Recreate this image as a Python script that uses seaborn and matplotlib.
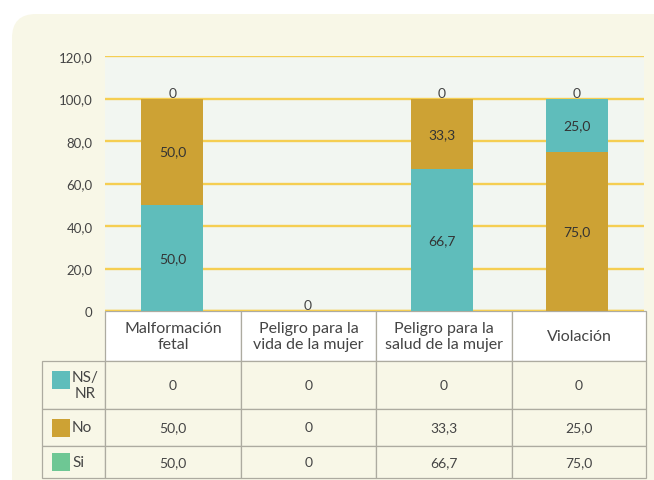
import matplotlib

matplotlib.use("Agg")
import matplotlib.pyplot as plt
import numpy as np
import pandas as pd
import seaborn as sns
from matplotlib.patches import FancyBboxPatch, Rectangle

# categories as shown in the table header
categories = ["Malformación\nfetal", "Peligro para la\nvida de la mujer",
              "Peligro para la\nsalud de la mujer", "Violación"]

# table values
row_names = ["NS/\nNR", "No", "Si"]
nsnr = [0, 0, 0, 0]
no = [50.0, 0, 33.3, 25.0]
si = [50.0, 0, 66.7, 75.0]

# bar segments as drawn (lower / upper)
bar_lower = [50.0, 0, 66.7, 75.0]
bar_upper = [50.0, 0, 33.3, 25.0]

y_ticks = [0, 20, 40, 60, 80, 100, 120]

TEAL = "#5FBDBB"
GOLD = "#CDA234"
GREEN = "#6EC794"
lower_colors = [TEAL, TEAL, TEAL, GOLD]
upper_colors = [GOLD, GOLD, GOLD, TEAL]
row_colors = [TEAL, GOLD, GREEN]

CREAM = "#F8F7E7"
PLOT_BG = "#F2F6F1"
GRID = "#F5CE52"
TXT = "#444444"
EDGE = "#ADABA0"
FONT = "Lato"


def fmt(v):
    return "0" if v == 0 else f"{v:.1f}".replace(".", ",")


def main() -> None:
    sns.set_theme(style="white")
    plt.rcParams["font.family"] = [FONT, "DejaVu Sans"]

    W, H = 654, 481
    fig = plt.figure(figsize=(W / 100, H / 100), dpi=100)
    fig.patch.set_facecolor("white")

    # pixel-coordinate background layer
    bg = fig.add_axes([0, 0, 1, 1], zorder=0)
    bg.set_xlim(0, W)
    bg.set_ylim(H, 0)
    bg.axis("off")
    bg.add_patch(FancyBboxPatch((12, 15), 700, 520, boxstyle="round,pad=0,rounding_size=24",
                                facecolor=CREAM, edgecolor="none"))

    # table
    col_edges = [105, 241, 376, 512, 646]
    row_edges = [312, 362, 410, 447, 479]
    left = 42
    for j, cat in enumerate(categories):
        x0, x1 = col_edges[j], col_edges[j + 1]
        bg.add_patch(Rectangle((x0, row_edges[0]), x1 - x0, row_edges[1] - row_edges[0],
                               facecolor="white", edgecolor=EDGE, linewidth=0.9))
        bg.text((x0 + x1) / 2, (row_edges[0] + row_edges[1]) / 2, cat, ha="center", va="center",
                fontsize=11.5, color=TXT, linespacing=1.15)
    table_rows = [nsnr, no, si]
    for i, vals in enumerate(table_rows):
        y0, y1 = row_edges[i + 1], row_edges[i + 2]
        ym = (y0 + y1) / 2
        bg.add_patch(Rectangle((left, y0), col_edges[0] - left, y1 - y0,
                               facecolor=CREAM, edgecolor=EDGE, linewidth=0.9))
        bg.add_patch(Rectangle((52, ym - 9 - (5 if i == 0 else 0)), 18, 18,
                               facecolor=row_colors[i], edgecolor="none"))
        bg.text(72, ym, row_names[i], ha="left", va="center", fontsize=11, color=TXT,
                multialignment="center", linespacing=1.2)
        for j, v in enumerate(vals):
            x0, x1 = col_edges[j], col_edges[j + 1]
            bg.add_patch(Rectangle((x0, y0), x1 - x0, y1 - y0,
                                   facecolor=CREAM, edgecolor=EDGE, linewidth=0.9))
            bg.text((x0 + x1) / 2, ym, fmt(v), ha="center", va="center", fontsize=10, color=TXT)

    # chart
    ax = fig.add_axes([105 / W, 1 - 312 / H, 539 / W, 255 / H], zorder=1)
    ax.set_facecolor(PLOT_BG)
    df = pd.DataFrame({
        "cat": categories,
        "lower": bar_lower,
        "total": np.add(bar_lower, bar_upper),
    })
    sns.barplot(data=df, x="cat", y="total", hue="cat", palette=upper_colors, width=0.46,
                saturation=1, errorbar=None, legend=False, linewidth=0, ax=ax, zorder=3)
    sns.barplot(data=df, x="cat", y="lower", hue="cat", palette=lower_colors, width=0.46,
                saturation=1, errorbar=None, legend=False, linewidth=0, ax=ax, zorder=3)

    for i in range(len(categories)):
        lo, up = bar_lower[i], bar_upper[i]
        if lo > 0:
            ax.text(i, lo / 2, fmt(lo), ha="center", va="center", fontsize=10, color="#333333", zorder=4)
        if up > 0:
            ax.text(i, lo + up / 2, fmt(up), ha="center", va="center", fontsize=10, color="#333333", zorder=4)
        ax.text(i, lo + up + nsnr[i], fmt(nsnr[i]), ha="center", va="bottom", fontsize=10,
                color=TXT, zorder=4)

    ax.set_xlim(-0.5, 3.5)
    ax.set_ylim(0, 120)
    ax.set_xticks([])
    ax.set_xlabel("")
    ax.set_ylabel("")
    ax.set_yticks(y_ticks)
    ax.set_yticklabels([fmt(float(t)) for t in y_ticks], fontsize=9.5, color=TXT)
    ax.tick_params(axis="y", length=0, pad=9)
    ax.grid(axis="y", color=GRID, linewidth=1.7, zorder=1)
    ax.set_axisbelow(True)
    for s in ax.spines.values():
        s.set_visible(False)
    ax.axhline(0, color=GRID, linewidth=1.7, zorder=2)

    fig.savefig("out.png", dpi=100, facecolor=fig.get_facecolor())
    plt.close(fig)


if __name__ == "__main__":
    main()
